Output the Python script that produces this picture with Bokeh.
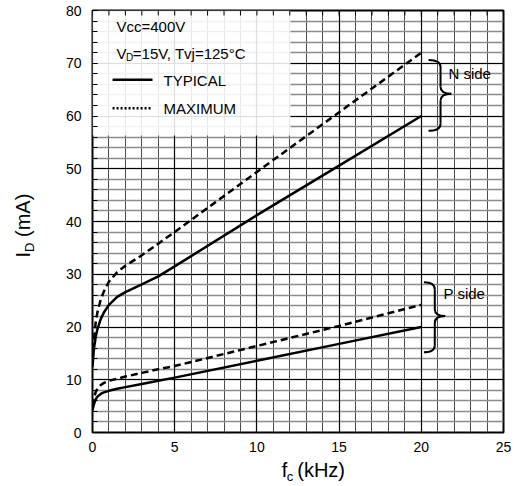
import math
from bokeh.plotting import figure
from bokeh.models import (Range1d, FixedTicker, SingleIntervalTicker, Grid, Label)
from bokeh.layouts import row, column
from bokeh.core.properties import value
from bokeh.embed import file_html
from bokeh.resources import INLINE

# ---------------- data ----------------
fc_khz = [0, 0.05, 0.1, 0.2, 0.3, 0.5, 0.7, 1.0, 1.5, 2.0, 3.0, 4.0, 5.0, 10, 15, 20]
n_typ = [12.5, 14.5, 16.2, 18.2, 19.6, 21.5, 22.8, 24.2, 25.7, 26.6, 28.1, 29.6, 31.5, 41.2, 50.6, 60.0]
n_max = [13.5, 16.0, 18.0, 21.0, 22.8, 25.2, 26.8, 28.6, 30.4, 31.6, 33.6, 35.8, 38.0, 49.4, 60.7, 72.0]
p_typ = [4.2, 4.9, 5.5, 6.3, 6.8, 7.3, 7.6, 7.9, 8.3, 8.6, 9.2, 9.8, 10.4, 13.6, 16.8, 20.0]
p_max = [5.0, 5.8, 6.6, 7.7, 8.3, 9.0, 9.4, 9.8, 10.2, 10.6, 11.3, 12.0, 12.6, 16.4, 20.2, 24.2]

x_ticks = [0, 5, 10, 15, 20, 25]
y_ticks = [0, 10, 20, 30, 40, 50, 60, 70, 80]
x_minor = list(range(0, 26))
y_minor = list(range(0, 81, 2))

# brace parameters: (x_end, x_spine, x_tip, y_top, y_tip, y_bottom)
n_brace = (20.44, 21.17, 21.82, 70.6, 64.2, 57.2)
p_brace = (20.16, 20.82, 21.45, 28.5, 22.1, 15.2)

FONT = "Liberation Sans"
XMAX, YMAX = 25, 80

LEFT_W = 40
W, H = 471, 456
ML, MR, MT, MB = 52, 8, 10, 24
BOT_H = 26
TOTAL_H = H + BOT_H
PX_X = XMAX / (W - ML - MR)      # kHz per pixel
PX_Y = YMAX / (H - MT - MB)      # mA per pixel

p = figure(width=W, height=H, output_backend="svg", toolbar_location=None,
           x_range=Range1d(0, XMAX), y_range=Range1d(0, YMAX),
           min_border_left=ML, min_border_right=MR, min_border_top=MT,
           min_border_bottom=MB, background_fill_color="white",
           border_fill_color="white")
p.outline_line_color = "black"
p.outline_line_width = 2

# axes
p.xaxis.ticker = FixedTicker(ticks=x_ticks)
p.yaxis.ticker = SingleIntervalTicker(interval=10, num_minor_ticks=5)
for ax in (p.xaxis[0], p.yaxis[0]):
    ax.axis_line_color = None
    ax.major_tick_out = 0
    ax.minor_tick_out = 0
    ax.major_label_text_font = FONT
    ax.major_label_text_font_size = "14px"
    ax.major_label_text_color = "black"
p.xaxis.major_label_standoff = 9
p.yaxis.major_label_standoff = 11
p.yaxis.major_tick_in = 5
p.yaxis.minor_tick_in = 5
p.yaxis.major_tick_line_color = "black"
p.yaxis.minor_tick_line_color = "black"
p.xaxis.major_tick_in = 0

# grids
p.xgrid.ticker = FixedTicker(ticks=x_minor)
p.xgrid.grid_line_color = "#4a4a4a"
p.xgrid.grid_line_width = 1
p.ygrid.ticker = FixedTicker(ticks=y_minor)
p.ygrid.grid_line_color = "#8c8c8c"
p.ygrid.grid_line_width = 1.3
p.add_layout(Grid(dimension=0, ticker=FixedTicker(ticks=x_ticks),
                  grid_line_color="black", grid_line_width=1.2))
p.add_layout(Grid(dimension=1, ticker=FixedTicker(ticks=y_ticks),
                  grid_line_color="black", grid_line_width=1.2))

# legend box
p.quad(left=[0], right=[12.04], bottom=[56.3], top=[YMAX],
       fill_color="white", fill_alpha=0.87, line_color=None)

# inward ticks along the top edge
p.segment(x0=x_minor, y0=[YMAX] * len(x_minor), x1=x_minor,
          y1=[YMAX - 5 * PX_Y] * len(x_minor), line_color="black", line_width=1)

# curves
p.line(fc_khz, n_typ, line_color="black", line_width=2.5)
p.line(fc_khz, n_max, line_color="black", line_width=2.5, line_dash="7 4")
p.line(fc_khz, p_typ, line_color="black", line_width=2.5)
p.line(fc_khz, p_max, line_color="black", line_width=2.5, line_dash="7 4")

# braces
def draw_brace(b):
    x0, xs, xt, yt, ym, yb = b
    r = 7 * PX_Y
    p.quadratic(x0=[x0, xs, xt, xs], y0=[yt, ym + r, ym, yb + r],
                x1=[xs, xt, xs, x0], y1=[yt - r, ym, ym - r, yb],
                cx=[xs, xs, xs, xs], cy=[yt, ym, ym, yb],
                line_color="black", line_width=2)
    p.segment(x0=[xs, xs], y0=[yt - r, ym - r], x1=[xs, xs], y1=[ym + r, yb + r],
              line_color="black", line_width=2)

draw_brace(n_brace)
draw_brace(p_brace)

def lab(x, y, t, size):
    p.add_layout(Label(x=x, y=y, text=t, text_font=FONT, text_font_size=size,
                       text_color="black", text_baseline="middle",
                       text_align="left"))

# legend content
lab(1.46, 76.97, "Vcc=400V", "15px")
lab(1.46, 71.85, "V", "15px")
lab(2.04, 71.0, "D", "10px")
lab(2.45, 71.85, "=15V, Tvj=125°C", "15px")
p.line([1.22, 3.65], [66.86, 66.86], line_color="black", line_width=2.5)
lab(4.32, 66.82, "TYPICAL", "15px")
p.line([1.22, 3.65], [61.48, 61.48], line_color="black", line_width=2.5, line_dash="2 2")
lab(4.32, 61.5, "MAXIMUM", "15px")

lab(21.65, 68.1, "N side", "15px")
lab(21.35, 26.26, "P side", "15px")

# ---------- axis titles in their own small panels ----------
def text_panel(w, h):
    f = figure(width=w, height=h, output_backend="svg", toolbar_location=None,
               x_range=Range1d(0, w), y_range=Range1d(0, h),
               x_axis_type=None, y_axis_type=None,
               min_border_left=0, min_border_right=0, min_border_top=0,
               min_border_bottom=0, background_fill_color="white",
               border_fill_color="white")
    f.outline_line_color = None
    return f

FS, SS = 20, 13
SPACE = 0.278 * FS

def tx(f, x, y, t, size, angle=0.0):
    f.text(x=[x], y=[y], text=[t], angle=angle, text_font=value(FONT),
           text_font_size=f"{size}px", text_align="left",
           text_baseline="middle", text_color="black")

# y title: I_D (mA), rotated
lp = text_panel(LEFT_W, TOTAL_H)
ymid_x = 22
y_start = TOTAL_H - 257
tx(lp, ymid_x, y_start, "I", FS, math.pi / 2)
tx(lp, ymid_x + 6.5, y_start + 0.278 * FS, "D", SS, math.pi / 2)
tx(lp, ymid_x, y_start + 0.278 * FS + 0.722 * SS + SPACE, "(mA)", FS, math.pi / 2)

# x title: f_c (kHz)
bp = text_panel(W, BOT_H)
x_start = 217
tx(bp, x_start, 13, "f", FS)
tx(bp, x_start + 0.278 * FS, 6.5, "c", SS)
tx(bp, x_start + 0.278 * FS + 0.5 * SS + SPACE, 13, "(kHz)", FS)

layout = row(lp, column(p, bp))
open("out.html", "w").write(file_html(layout, INLINE))
